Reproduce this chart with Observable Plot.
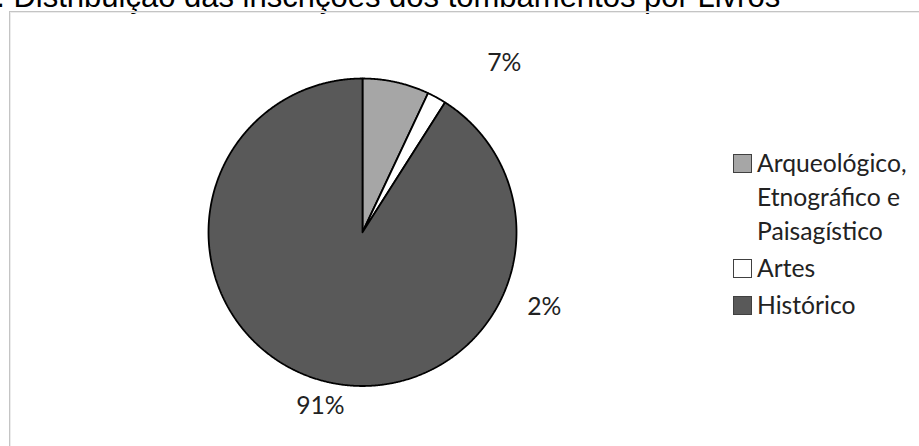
<!DOCTYPE html>
<html><head><meta charset="utf-8">
<script src="https://cdn.jsdelivr.net/npm/d3@7"></script>
<script src="https://cdn.jsdelivr.net/npm/@observablehq/plot@0.6"></script>
<style>
html,body{margin:0;padding:0;background:#fff}
body{width:919px;height:446px;overflow:hidden;position:relative}
#title{position:absolute;left:-21px;top:-19px;font:31px/31px "Liberation Sans",Arial,sans-serif;color:#000;white-space:nowrap}
#frame{position:absolute;left:9px;top:11px;width:930px;height:450px;border:1px solid #c4c4c4;box-shadow:inset 1px 1px 0 #ececec}
#chart{position:absolute;left:0;top:0}
#legend{position:absolute;left:733px;top:145.5px;font:24.7px/34px Lato,sans-serif;color:#222}
.item{display:flex;align-items:flex-start;margin-bottom:3px}
.sw{width:19px;height:19px;border:1.5px solid #404040;box-sizing:border-box;margin-top:8px;margin-right:5px;flex:none}
</style></head>
<body>
<div id="title">1. Distribuição das inscrições dos tombamentos por Livros</div>
<div id="frame"></div>
<div id="chart"></div>
<div id="legend"></div>
<script>
const categories = ["Arqueológico, Etnográfico e Paisagístico", "Artes", "Histórico"];
const legendLines = [["Arqueológico,", "Etnográfico e", "Paisagístico"], ["Artes"], ["Histórico"]];
const values = [7, 2, 91];
const labels = ["7%", "2%", "91%"];
const colors = ["#a6a6a6", "#ffffff", "#595959"];
// label placement: angle (deg, clockwise from top) and radius factor
const labelAngle = [40, 112.4, 193.6];
const labelRadius = [1.433, 1.276, 1.162];

const arcs = d3.pie().sort(null)(values);
const pts = [];
arcs.forEach((a, i) => {
  pts.push({cat: categories[i], color: colors[i], x: 0, y: 0});
  const n = Math.max(2, Math.ceil((a.endAngle - a.startAngle) / 0.005));
  for (let k = 0; k <= n; k++) {
    const t = a.startAngle + (a.endAngle - a.startAngle) * k / n;
    pts.push({cat: categories[i], color: colors[i], x: Math.sin(t), y: Math.cos(t)});
  }
  pts.push({cat: categories[i], color: colors[i], x: 0, y: 0});
});
const lab = labels.map((l, i) => {
  const t = labelAngle[i] * Math.PI / 180;
  return {label: l, x: labelRadius[i] * Math.sin(t), y: labelRadius[i] * Math.cos(t)};
});

const chart = Plot.plot({
  width: 919, height: 446,
  margin: 0,
  x: {domain: [-1, 1], range: [208, 516], axis: null},
  y: {domain: [-1, 1], range: [385.5, 78], axis: null},
  color: {type: "identity"},
  style: {background: "transparent"},
  marks: [
    Plot.line(pts, {x: "x", y: "y", z: "cat", fill: "color", stroke: "#000", strokeWidth: 1.8, strokeLinejoin: "miter", curve: "linear"}),
    Plot.text(lab, {x: "x", y: "y", text: "label", fontSize: 24.7, fontFamily: "Lato, sans-serif", fill: "#222"})
  ]
});
document.getElementById("chart").appendChild(chart);

const lg = document.getElementById("legend");
legendLines.forEach((lines, i) => {
  const it = document.createElement("div"); it.className = "item";
  const sw = document.createElement("div"); sw.className = "sw"; sw.style.background = colors[i];
  const tx = document.createElement("div"); tx.innerHTML = lines.join("<br>");
  it.appendChild(sw); it.appendChild(tx); lg.appendChild(it);
});
</script>
</body></html>
